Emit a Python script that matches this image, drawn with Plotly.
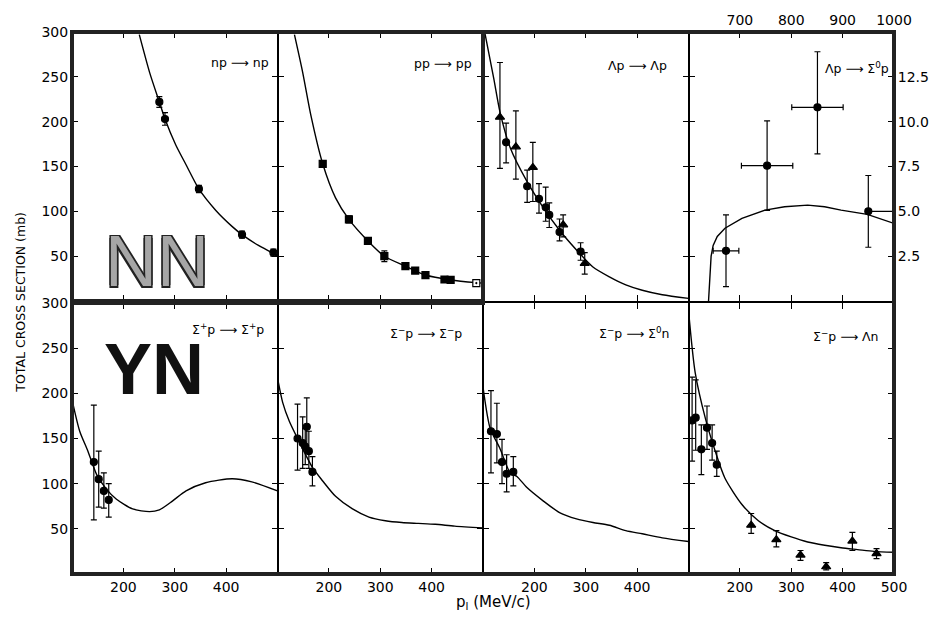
import plotly.graph_objects as go

# ---------------- data ----------------
# Panel 1: np -> np
np_x = [270, 281, 347, 431, 492]
np_y = [222, 203, 125, 74, 54]
np_err = [6, 7, 4, 4, 4]
np_cx = [231, 251, 270, 281, 302, 322, 347, 380, 412, 431, 463, 492, 500]
np_cy = [297, 255, 222, 203, 174, 152, 125, 101, 83, 74, 62, 53, 50]

# Panel 2: pp -> pp
pp_x = [188, 239, 276, 308, 349, 368, 388, 425, 437]
pp_y = [153, 91, 67, 50, 39, 34, 29, 24, 23.5]
pp_err = [3, 4, 3, 6, 3, 3, 3, 2, 2]
pp_open_x = [487]
pp_open_y = [20]
pp_cx = [133, 149, 165, 188, 213, 239, 276, 308, 349, 388, 437, 487, 500]
pp_cy = [297, 255, 207, 153, 115, 91, 67, 50, 39, 29, 23.5, 20.5, 20]

# Panel 3: Lambda p -> Lambda p
lp_tri_x = [133, 164, 197, 256, 298]
lp_tri_y = [205, 172, 149, 85, 42]
lp_tri_up = [61, 40, 28, 11, 12]
lp_tri_dn = [57, 36, 38, 13.5, 12]
lp_cir_x = [145, 186, 209, 222, 229, 249, 290]
lp_cir_y = [177, 128, 114, 104.5, 96, 77, 55]
lp_cir_up = [21.5, 18, 17, 22.5, 13.5, 14.5, 10]
lp_cir_dn = [23, 18, 16, 15.5, 14, 10, 9.5]
lp_cx = [104, 121, 133, 153, 185, 217, 249, 282, 314, 346, 378, 410, 449, 500]
lp_cy = [298, 248, 211, 171, 134, 104.5, 79, 57, 38, 27, 18, 12, 7, 3]

# Panel 4: Lambda p -> Sigma0 p (upper x 600-1000 MeV/c, right y 0-15 mb)
ls_x = [673, 753, 851, 950]
ls_y = [2.8, 7.55, 10.8, 5.0]
ls_up = [2.0, 2.5, 3.1, 2.0]
ls_dn = [2.0, 2.5, 2.6, 2.0]
ls_xp = [25, 50, 50, 50]
ls_xm = [25, 50, 50, 0]
ls_cx = [639, 641, 644, 648, 656, 671, 704, 749, 787, 832, 865, 897, 948, 1000]
ls_cy = [0, 1.2, 2.5, 3.1, 3.6, 4.06, 4.61, 5.07, 5.26, 5.35, 5.26, 5.07, 4.83, 4.33]

# Panel 5: Sigma+ p -> Sigma+ p
sp_x = [142.5, 152, 162, 171.5]
sp_y = [124, 105, 92, 82]
sp_up = [63, 31, 20, 18]
sp_dn = [64, 31, 19, 19]
sp_cx = [100, 115, 131, 148, 167, 186, 218, 251, 270, 296, 322, 360, 412, 450, 500]
sp_cy = [193, 158, 136, 110, 94, 83, 72, 69, 71, 81, 92, 101, 105.5, 102, 92]

# Panel 6: Sigma- p -> Sigma- p
sm_x = [139, 149, 154, 157, 161, 168]
sm_y = [150, 145, 141, 163, 136, 113]
sm_up = [38, 29, 20, 32, 22, 17]
sm_dn = [35, 28, 20, 27, 19, 15.5]
sm_cx = [100, 110, 123, 139, 168, 188, 213, 246, 278, 310, 342, 374, 407, 445, 500]
sm_cy = [217, 190, 169, 150, 118, 103, 86, 72, 63, 59, 57, 56, 55, 53, 51]

# Panel 7: Sigma- p -> Sigma0 n
sz_x = [115.5, 127, 137, 146, 159]
sz_y = [158, 155, 124, 111, 113]
sz_up = [45, 34, 25, 21, 17]
sz_dn = [46, 32, 24, 20, 15.5]
sz_cx = [100, 114, 133, 153, 166, 185, 217, 249, 282, 314, 346, 378, 410, 449, 500]
sz_cy = [207, 161, 139, 112, 108, 96, 81, 68, 61, 57, 54, 48, 44.5, 40, 36]

# Panel 8: Sigma- p -> Lambda n
sl_cir_x = [107, 114, 125, 136, 146, 155]
sl_cir_y = [170, 173, 138, 162, 145, 121]
sl_cir_up = [48, 42, 27, 24, 20, 15]
sl_cir_dn = [45, 36, 28, 24, 19, 13]
sl_tri_x = [222, 271, 318, 368, 419, 466]
sl_tri_y = [54, 38, 21, 8, 36.5, 22.6]
sl_tri_up = [13, 10, 5, 4.5, 9.5, 5.5]
sl_tri_dn = [9, 8, 6, 3.5, 10.5, 5.5]
sl_cx = [100, 113, 133, 152, 171, 204, 236, 268, 300, 332, 365, 397, 429, 461, 500]
sl_cy = [292, 223, 172, 136, 106, 77, 59, 48, 41, 35.4, 31.8, 29, 27, 25, 24]

labels = ["np ⟶ np", "pp ⟶ pp", "Λp ⟶ Λp", "Λp ⟶ Σ<sup>0</sup>p",
          "Σ<sup>+</sup>p ⟶ Σ<sup>+</sup>p", "Σ<sup>−</sup>p ⟶ Σ<sup>−</sup>p",
          "Σ<sup>−</sup>p ⟶ Σ<sup>0</sup>n", "Σ<sup>−</sup>p ⟶ Λn"]
y_ticks = [50, 100, 150, 200, 250, 300]
x_ticks = [200, 300, 400]
top_x_ticks = [700, 800, 900, 1000]
right_y_ticks = [2.5, 5.0, 7.5, 10.0, 12.5]

# ---------------- figure ----------------
fig = go.Figure()


def sfx(i):
    return "" if i == 1 else str(i)


def curve(i, xs, ys, shape="spline"):
    fig.add_trace(go.Scatter(x=xs, y=ys, mode="lines",
                             line=dict(color="black", width=1.4, shape=shape, smoothing=0.7),
                             xaxis="x" + sfx(i), yaxis="y" + sfx(i),
                             showlegend=False, hoverinfo="skip"))


def points(i, xs, ys, up, dn, symbol="circle", size=7, xp=None, xm=None, fill="black"):
    kw = {}
    if xp is not None:
        kw["error_x"] = dict(type="data", symmetric=False, array=xp, arrayminus=xm,
                             color="black", thickness=1.2, width=3)
    fig.add_trace(go.Scatter(x=xs, y=ys, mode="markers",
                             marker=dict(symbol=symbol, size=size, color=fill,
                                         line=dict(color="black", width=1.2)),
                             error_y=dict(type="data", symmetric=False, array=up, arrayminus=dn,
                                          color="black", thickness=1.2, width=3),
                             xaxis="x" + sfx(i), yaxis="y" + sfx(i),
                             showlegend=False, hoverinfo="skip", **kw))


curve(1, np_cx, np_cy)
points(1, np_x, np_y, np_err, np_err)
curve(2, pp_cx, pp_cy)
points(2, pp_x, pp_y, pp_err, pp_err, symbol="square", size=7)
points(2, pp_open_x, pp_open_y, [1], [1], symbol="square-dot", size=7, fill="white")
curve(3, lp_cx, lp_cy)
points(3, lp_tri_x, lp_tri_y, lp_tri_up, lp_tri_dn, symbol="triangle-up", size=8)
points(3, lp_cir_x, lp_cir_y, lp_cir_up, lp_cir_dn)
curve(4, ls_cx, ls_cy, shape="linear")
points(4, ls_x, ls_y, ls_up, ls_dn, xp=ls_xp, xm=ls_xm)
curve(5, sp_cx, sp_cy)
points(5, sp_x, sp_y, sp_up, sp_dn)
curve(6, sm_cx, sm_cy)
points(6, sm_x, sm_y, sm_up, sm_dn)
curve(7, sz_cx, sz_cy)
points(7, sz_x, sz_y, sz_up, sz_dn)
curve(8, sl_cx, sl_cy)
points(8, sl_cir_x, sl_cir_y, sl_cir_up, sl_cir_dn)
points(8, sl_tri_x, sl_tri_y, sl_tri_up, sl_tri_dn, symbol="triangle-up", size=8)

col_dom = [[0, 0.25], [0.25, 0.5], [0.5, 0.75], [0.75, 1.0]]
row_dom = [[0.5036, 1.0], [0.0, 0.5]]
tickfont = dict(family="DejaVu Sans", size=14, color="black")

layout = dict(
    width=941, height=622,
    margin=dict(l=72, r=41, t=26, b=48),
    plot_bgcolor="white", paper_bgcolor="white",
    font=dict(family="DejaVu Sans", color="black"),
    showlegend=False,
)

for i in range(1, 9):
    row = 0 if i <= 4 else 1
    col = (i - 1) % 4
    common = dict(showline=True, linecolor="black", linewidth=1, mirror="ticks",
                  ticks="inside", ticklen=6, tickwidth=1.2, tickcolor="black",
                  showgrid=False, zeroline=False, tickfont=tickfont, fixedrange=True)
    xa = dict(common, domain=col_dom[col], anchor="y" + sfx(i), range=[100, 500],
              tickmode="array", tickvals=x_ticks, showticklabels=(row == 1))
    ya = dict(common, domain=row_dom[row], anchor="x" + sfx(i), range=[0, 300],
              tickmode="array", tickvals=y_ticks, showticklabels=(col == 0))
    if i == 8:
        xa["tickvals"] = x_ticks + [500]
    if i == 4:
        xa.update(range=[600, 1000], side="top", tickvals=top_x_ticks, showticklabels=True)
        ya.update(range=[0, 15], side="right", tickvals=right_y_ticks,
                  ticktext=["%.1f" % v for v in right_y_ticks], showticklabels=True)
    layout["xaxis" + sfx(i)] = xa
    layout["yaxis" + sfx(i)] = ya

fig.update_layout(**layout)

# reaction labels
label_pos = [(0.966, 0.886), (0.957, 0.882), (0.903, 0.875), (0.986, 0.868),
             (0.942, 0.905), (0.908, 0.89), (0.914, 0.89), (0.937, 0.88)]
for i, (lab, (lx, ly)) in enumerate(zip(labels, label_pos), start=1):
    fig.add_annotation(text=lab, xref="x" + sfx(i) + " domain", yref="y" + sfx(i) + " domain",
                       x=lx, y=ly, xanchor="right", yanchor="middle", showarrow=False,
                       font=dict(family="DejaVu Sans", size=12.5, color="black"))

# big block labels
fig.add_annotation(text="NN", xref="x domain", yref="y domain", x=0.415, y=0.15,
                   showarrow=False, xanchor="center", yanchor="middle",
                   font=dict(family="Liberation Sans", size=72, color="#a6a6a6",
                             shadow="-1.5px -1.5px 0 #222, 1.5px -1.5px 0 #222, -1.5px 1.5px 0 #222, 1.5px 1.5px 0 #222"))
fig.add_annotation(text="<b>YN</b>", xref="x5 domain", yref="y5 domain", x=0.40, y=0.755,
                   showarrow=False, xanchor="center", yanchor="middle",
                   font=dict(family="Liberation Sans", size=72, color="#111"))

# axis titles
fig.add_annotation(text="TOTAL CROSS SECTION (mb)", xref="paper", yref="paper",
                   x=-0.063, y=0.501, textangle=-90, showarrow=False,
                   xanchor="center", yanchor="middle",
                   font=dict(family="DejaVu Sans", size=12.5, color="black"))
fig.add_annotation(text="p<sub>l</sub> (MeV/c)", xref="paper", yref="paper",
                   x=0.513, y=-0.052, showarrow=False, xanchor="center", yanchor="middle",
                   font=dict(family="DejaVu Sans", size=15, color="black"))

# thick block frames (NN block and YN block)
fig.add_shape(type="rect", xref="paper", yref="paper", x0=0, x1=0.5, y0=0.5036, y1=1.0,
              line=dict(color="#222", width=4))
fig.add_shape(type="path", xref="paper", yref="paper",
              path="M 0,0.5 L 0.5,0.5 L 0.5,1 L 1,1 L 1,0 L 0,0 Z",
              line=dict(color="#222", width=4))

fig.write_html("out.html")
